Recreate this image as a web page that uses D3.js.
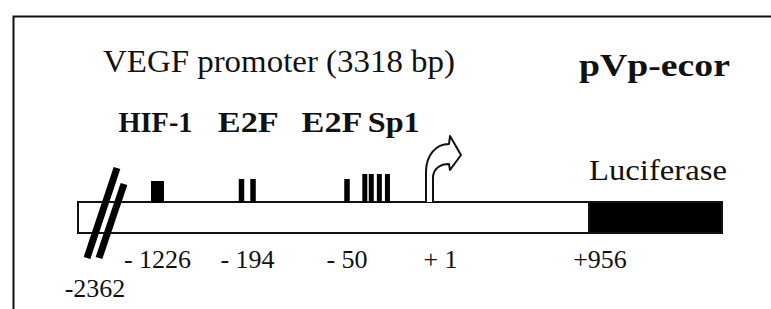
<!DOCTYPE html>
<html>
<head>
<meta charset="utf-8">
<script src="https://cdn.jsdelivr.net/npm/d3@7"></script>
<style>
    body { margin: 0; background: #ffffff; }
    text { font-family: "Liberation Serif", "Times New Roman", serif; fill: #111111; }
</style>
</head>
<body>
<svg id="mapa"></svg>
<script>
// positions in bp relative to the transcription start (+1)
const ticks = [-2362, -1226, -194, -50, 1, 956];
const tickLabels = ['-2362', '- 1226', '- 194', '- 50', '+ 1', '+956'];
const lucEnd = 2609;

const siteLabels = ['HIF-1', 'E2F', 'E2F', 'Sp1'];
const siteGroup = [0, 1, 1, 2, 3, 3, 3, 3];
const sitePos = [-1226, -263, -186, -50, -39, -35, -30, -25];

const titulo = 'VEGF promoter (3318 bp)';
const nombre = 'pVp-ecor';
const gen = 'Luciferase';

const ancho = 771;
const alto = 309;
const barTop = 202;
const barH = 31;

const svg = d3.select('#mapa').attr('width', ancho).attr('height', alto);

// schematic scale, not proportional to bp
const x = d3.scaleLinear()
    .domain(ticks.concat([lucEnd]))
    .range([78, 157.5, 247.5, 347, 429.5, 589, 722]);

// frame
svg.append('path')
    .attr('d', 'M13.5,' + alto + ' L13.5,16.5 L' + ancho + ',16.5')
    .attr('fill', 'none')
    .attr('stroke', '#111')
    .attr('stroke-width', 2);

function texto (t, px, py, size, bold, largo) {
    const el = svg.append('text')
        .attr('x', px)
        .attr('y', py)
        .style('font-size', size + 'px')
        .style('font-weight', bold ? 'bold' : 'normal')
        .text(t);
    if (largo) {
        el.attr('textLength', largo).attr('lengthAdjust', 'spacingAndGlyphs');
    }
    return el;
}

texto(titulo, 103, 72, 31, false, 352);
texto(nombre, 579, 76, 31, true, 151);
texto(gen, x(956), 180, 30, false, 138);

// main bar
svg.append('rect')
    .attr('x', x(ticks[0]))
    .attr('y', barTop)
    .attr('width', x(lucEnd) - x(ticks[0]))
    .attr('height', barH)
    .attr('fill', '#ffffff')
    .attr('stroke', '#111')
    .attr('stroke-width', 2);

svg.append('rect')
    .attr('x', x(956))
    .attr('y', barTop)
    .attr('width', x(lucEnd) - x(956))
    .attr('height', barH)
    .attr('fill', '#000')
    .attr('stroke', '#111')
    .attr('stroke-width', 2);

// binding sites
const anchoSitio = {'HIF-1': 13, 'E2F': 5.5, 'Sp1': 5};
const altoSitio = {'HIF-1': 21, 'E2F': 23, 'Sp1': 28};

svg.selectAll('rect.sitio')
    .data(sitePos).enter()
    .append('rect')
    .attr('class', 'sitio')
    .attr('x', function (d, i) {
        return x(d) - anchoSitio[siteLabels[siteGroup[i]]] / 2;
    })
    .attr('y', function (d, i) {
        return barTop - altoSitio[siteLabels[siteGroup[i]]];
    })
    .attr('width', function (d, i) {
        return anchoSitio[siteLabels[siteGroup[i]]];
    })
    .attr('height', function (d, i) {
        return altoSitio[siteLabels[siteGroup[i]]] + 1;
    })
    .attr('fill', '#000');

const labelNudge = [-2, 1, -15, 18];
const labelLargo = [74, 61, 61, 52];
siteLabels.forEach(function (lab, g) {
    const xs = sitePos.filter(function (d, i) { return siteGroup[i] === g; }).map(x);
    const cx = d3.mean(xs) + labelNudge[g];
    texto(lab, cx - labelLargo[g] / 2, 132, 29, true, labelLargo[g]);
});

// transcription start arrow
const x0 = x(1);
const flecha = d3.path();
flecha.moveTo(x0 - 3.5, barTop);
flecha.lineTo(x0 - 3.5, barTop - 30);
flecha.bezierCurveTo(x0 - 3.5, barTop - 47, x0 + 6.5, barTop - 58, x0 + 19.5, barTop - 58);
flecha.lineTo(x0 + 20.5, barTop - 66);
flecha.lineTo(x0 + 31.5, barTop - 47);
flecha.lineTo(x0 + 20.5, barTop - 32);
flecha.lineTo(x0 + 19.5, barTop - 38);
flecha.bezierCurveTo(x0 + 11.5, barTop - 38, x0 + 3.5, barTop - 34, x0 + 3.5, barTop - 24);
flecha.lineTo(x0 + 3.5, barTop);
svg.append('path')
    .attr('d', flecha.toString())
    .attr('fill', '#fff')
    .attr('stroke', '#111')
    .attr('stroke-width', 2)
    .attr('stroke-linejoin', 'round');

// break marks
const corte = x(ticks[0]) + 30;
const slashes = [[corte - 21, 258, corte + 9, 168], [corte - 9, 258, corte + 16, 184]];
svg.selectAll('line.corte')
    .data(slashes).enter()
    .append('line')
    .attr('class', 'corte')
    .attr('x1', function (d) { return d[0]; })
    .attr('y1', function (d) { return d[1]; })
    .attr('x2', function (d) { return d[2]; })
    .attr('y2', function (d) { return d[3]; })
    .attr('stroke', '#000')
    .attr('stroke-width', 7);

// position labels
svg.selectAll('text.tick')
    .data(ticks).enter()
    .append('text')
    .attr('class', 'tick')
    .attr('x', function (d, i) {
        if (i === 0) {
            return corte - 13;
        }
        return x(d) + (d > 0 ? 11 : 0);
    })
    .attr('y', function (d, i) {
        return i === 0 ? 297 : 268;
    })
    .attr('text-anchor', 'middle')
    .style('font-size', '26px')
    .text(function (d, i) {
        return tickLabels[i];
    });
</script>
</body>
</html>
